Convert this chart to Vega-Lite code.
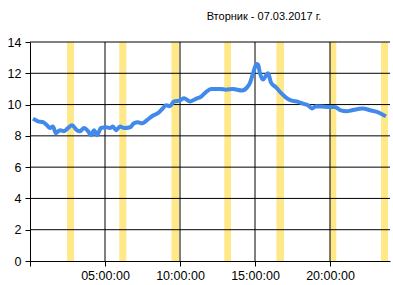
{
  "$schema": "https://vega.github.io/schema/vega-lite/v6.json",
  "autosize": "none",
  "width": 360,
  "height": 219,
  "padding": {"left": 30, "top": 42, "right": 3, "bottom": 24},
  "background": "white",
  "config": {
    "font": "Liberation Sans",
    "view": {"stroke": null},
    "axis": {"grid": false, "domainColor": "#000000", "tickColor": "#000000", "labelColor": "#000000", "labelFont": "Liberation Sans", "labelFontSize": 12.5, "tickSize": 5, "title": null, "labelOverlap": false, "labelFlush": false}
  },
  "title": {"text": "Вторник - 07.03.2017 г.", "fontSize": 11, "fontWeight": "normal", "color": "#000000", "font": "Liberation Sans", "frame": "group", "anchor": "middle", "dx": 54, "baseline": "alphabetic", "offset": 5},
  "datasets": {
    "bands": [
      {"s": 2.47, "e": 2.93},
      {"s": 5.95, "e": 6.42},
      {"s": 9.43, "e": 9.93},
      {"s": 12.95, "e": 13.4},
      {"s": 16.43, "e": 16.93},
      {"s": 19.98, "e": 20.42},
      {"s": 23.4, "e": 23.87}
    ],
    "hgrid": [{"v": 2}, {"v": 4}, {"v": 6}, {"v": 8}, {"v": 10}, {"v": 12}, {"v": 14}],
    "vgrid": [{"h": 5}, {"h": 10}, {"h": 15}, {"h": 20}],
    "series": [
      {"h": 0.2, "v": 9.1}, {"h": 0.53, "v": 8.93}, {"h": 0.87, "v": 8.87}, {"h": 1.13, "v": 8.68},
      {"h": 1.33, "v": 8.5}, {"h": 1.53, "v": 8.6}, {"h": 1.73, "v": 8.17}, {"h": 2.0, "v": 8.36},
      {"h": 2.27, "v": 8.3}, {"h": 2.53, "v": 8.5}, {"h": 2.8, "v": 8.68}, {"h": 3.13, "v": 8.36},
      {"h": 3.33, "v": 8.3}, {"h": 3.6, "v": 8.5}, {"h": 3.87, "v": 8.3}, {"h": 4.07, "v": 8.04},
      {"h": 4.27, "v": 8.36}, {"h": 4.47, "v": 8.04}, {"h": 4.73, "v": 8.5}, {"h": 5.07, "v": 8.55},
      {"h": 5.33, "v": 8.5}, {"h": 5.53, "v": 8.6}, {"h": 5.73, "v": 8.36}, {"h": 6.0, "v": 8.6},
      {"h": 6.27, "v": 8.5}, {"h": 6.67, "v": 8.55}, {"h": 6.93, "v": 8.8}, {"h": 7.2, "v": 8.87},
      {"h": 7.47, "v": 8.8}, {"h": 7.8, "v": 9.0}, {"h": 8.2, "v": 9.3}, {"h": 8.53, "v": 9.45},
      {"h": 8.8, "v": 9.7}, {"h": 9.07, "v": 9.95}, {"h": 9.33, "v": 9.9}, {"h": 9.6, "v": 10.2},
      {"h": 10.0, "v": 10.27}, {"h": 10.27, "v": 10.4}, {"h": 10.67, "v": 10.2}, {"h": 11.13, "v": 10.4},
      {"h": 11.4, "v": 10.5}, {"h": 11.73, "v": 10.8}, {"h": 12.07, "v": 11.0}, {"h": 12.67, "v": 11.0},
      {"h": 13.07, "v": 10.95}, {"h": 13.53, "v": 11.0}, {"h": 14.13, "v": 10.9}, {"h": 14.47, "v": 11.1},
      {"h": 14.67, "v": 11.4}, {"h": 14.87, "v": 12.0}, {"h": 15.1, "v": 12.6}, {"h": 15.2, "v": 12.55},
      {"h": 15.33, "v": 12.0}, {"h": 15.53, "v": 11.6}, {"h": 15.87, "v": 12.0}, {"h": 16.07, "v": 11.4},
      {"h": 16.4, "v": 11.1}, {"h": 16.73, "v": 10.75}, {"h": 17.07, "v": 10.45}, {"h": 17.4, "v": 10.27},
      {"h": 17.87, "v": 10.17}, {"h": 18.2, "v": 10.06}, {"h": 18.53, "v": 9.96}, {"h": 18.8, "v": 9.75},
      {"h": 19.07, "v": 9.9}, {"h": 19.8, "v": 9.85}, {"h": 20.33, "v": 9.85}, {"h": 20.67, "v": 9.64},
      {"h": 21.13, "v": 9.57}, {"h": 21.47, "v": 9.64}, {"h": 22.2, "v": 9.75}, {"h": 22.67, "v": 9.64},
      {"h": 23.13, "v": 9.53}, {"h": 23.53, "v": 9.35}, {"h": 23.73, "v": 9.25}
    ]
  },
  "encoding": {
    "x": {"type": "quantitative", "scale": {"domain": [0, 24], "nice": false, "zero": false},
          "axis": {"values": [0, 5, 10, 15, 20], "labelExpr": "datum.value == 0 ? '' : (datum.value < 10 ? '0' : '') + datum.value + ':00:00'", "labelPadding": 3}},
    "y": {"type": "quantitative", "scale": {"domain": [0, 14], "nice": false},
          "axis": {"values": [0, 2, 4, 6, 8, 10, 12, 14], "labelPadding": 4}}
  },
  "layer": [
    {
      "data": {"name": "bands"},
      "mark": {"type": "rect", "color": "#FFE888"},
      "encoding": {
        "x": {"field": "s", "type": "quantitative"},
        "x2": {"field": "e"}
      }
    },
    {
      "data": {"name": "hgrid"},
      "mark": {"type": "rule", "color": "#000000", "strokeWidth": 1},
      "encoding": {"y": {"field": "v", "type": "quantitative"}}
    },
    {
      "data": {"name": "vgrid"},
      "mark": {"type": "rule", "color": "#000000", "strokeWidth": 1},
      "encoding": {"x": {"field": "h", "type": "quantitative"}}
    },
    {
      "data": {"name": "series"},
      "mark": {"type": "line", "color": "#4189EA", "strokeWidth": 4, "interpolate": "monotone"},
      "encoding": {
        "x": {"field": "h", "type": "quantitative"},
        "y": {"field": "v", "type": "quantitative"}
      }
    }
  ]
}
